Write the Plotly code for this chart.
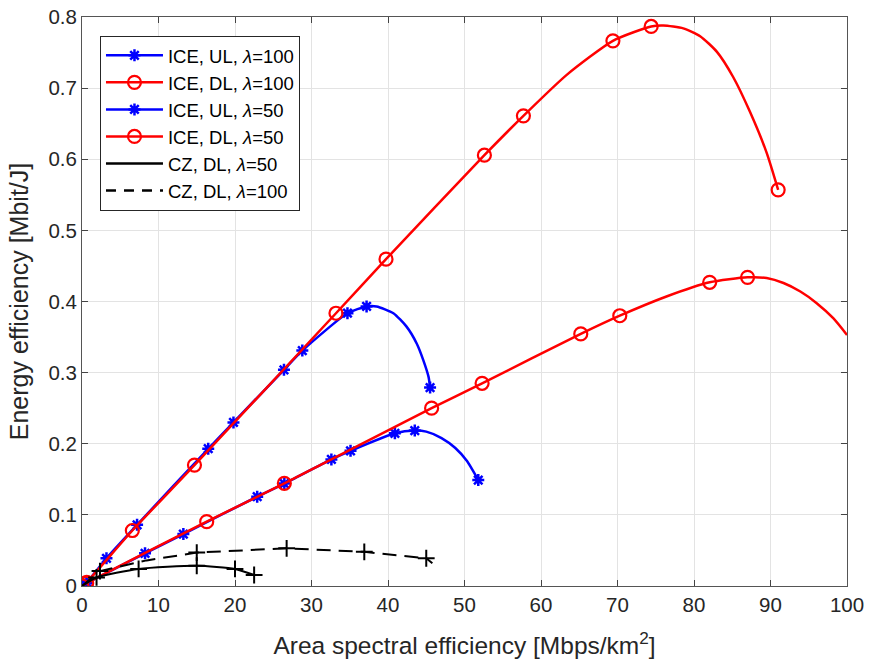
import plotly.graph_objects as go

# ---- data ----
# ICE, UL, lambda=100 (blue)
ul100_x = [0, 0.6, 3.2, 7.2, 16.5, 19.8, 26.4, 28.8, 34.7, 37.2, 38.5, 40.7, 42.4, 43.75, 44.6, 45.3, 45.5]
ul100_y = [0, 0.005, 0.039, 0.086, 0.193, 0.230, 0.304, 0.331, 0.3835, 0.393, 0.393, 0.3835, 0.365, 0.341, 0.318, 0.294, 0.279]
ul100_mx = [0, 0.6, 3.2, 7.2, 16.5, 19.8, 26.4, 28.8, 34.7, 37.2, 45.5]
ul100_my = [0, 0.005, 0.039, 0.086, 0.193, 0.230, 0.304, 0.331, 0.3835, 0.393, 0.279]

# ICE, DL, lambda=100 (red)
dl100_x = [0, 0.6, 6.58, 14.7, 33.2, 39.74, 52.6, 57.7, 63.4, 69.4, 74.4, 76.0, 78.6, 80.8, 83.0, 85.1, 87.3, 89.5, 91.0]
dl100_y = [0, 0.005, 0.078, 0.170, 0.3835, 0.4595, 0.6057, 0.661, 0.719, 0.7665, 0.7867, 0.788, 0.784, 0.773, 0.751, 0.716, 0.667, 0.609, 0.557]
dl100_mx = [0, 0.6, 6.58, 14.7, 33.2, 39.74, 52.6, 57.7, 69.4, 74.4, 91.0]
dl100_my = [0, 0.005, 0.078, 0.170, 0.3835, 0.4595, 0.6057, 0.661, 0.7665, 0.7867, 0.557]

# ICE, UL, lambda=50 (blue)
ul50_x = [0, 0.6, 8.24, 13.25, 22.9, 26.45, 32.6, 35.1, 40.9, 43.5, 45.0, 47.0, 48.8, 50.3, 51.8]
ul50_y = [0, 0.004, 0.046, 0.0731, 0.1256, 0.144, 0.178, 0.190, 0.2147, 0.2185, 0.217, 0.208, 0.194, 0.176, 0.149]
ul50_mx = [0, 0.6, 8.24, 13.25, 22.9, 26.45, 32.6, 35.1, 40.9, 43.5, 51.8]
ul50_my = [0, 0.004, 0.046, 0.0731, 0.1256, 0.144, 0.178, 0.190, 0.2147, 0.2185, 0.149]

# ICE, DL, lambda=50 (red)
dl50_x = [0, 0.6, 16.3, 26.45, 45.7, 52.3, 65.2, 70.3, 76.4, 82.05, 87.0, 89.5, 91.7, 93.9, 96.0, 98.2, 100.0]
dl50_y = [0, 0.004, 0.0905, 0.1444, 0.250, 0.285, 0.3544, 0.380, 0.407, 0.427, 0.434, 0.433, 0.426, 0.414, 0.398, 0.3765, 0.353]
dl50_mx = [0, 0.6, 16.3, 26.45, 45.7, 52.3, 65.2, 70.3, 82.05, 87.0]
dl50_my = [0, 0.004, 0.0905, 0.1444, 0.250, 0.285, 0.3544, 0.380, 0.427, 0.434]

# CZ, DL, lambda=50 (black solid)
cz50_x = [0, 1.9, 7.4, 15.0, 20.0, 22.5]
cz50_y = [0, 0.012, 0.024, 0.0285, 0.024, 0.0155]

# CZ, DL, lambda=100 (black dashed)
cz100_x = [0, 2.35, 8.45, 15.0, 26.75, 36.9, 45.0, 45.8]
cz100_y = [0, 0.021, 0.036, 0.047, 0.053, 0.048, 0.039, 0.032]
cz100_mx = [2.35, 15.0, 26.75, 36.9, 45.0]
cz100_my = [0.021, 0.047, 0.053, 0.048, 0.039]

x_ticks = [0, 10, 20, 30, 40, 50, 60, 70, 80, 90, 100]
y_ticks = [0, 0.1, 0.2, 0.3, 0.4, 0.5, 0.6, 0.7, 0.8]
y_tick_text = ["0", "0.1", "0.2", "0.3", "0.4", "0.5", "0.6", "0.7", "0.8"]

names = ["ICE, UL, <i>λ</i>=100", "ICE, DL, <i>λ</i>=100", "ICE, UL, <i>λ</i>=50",
         "ICE, DL, <i>λ</i>=50", "CZ, DL, <i>λ</i>=50", "CZ, DL, <i>λ</i>=100"]

BLUE = "#0000ff"
RED = "#ff0000"
BLACK = "#000000"
FONT = "Liberation Sans, Arial, sans-serif"
DASH = "14px,8px"

blue_marker = dict(symbol="asterisk-open", size=10, color=BLUE, line=dict(color=BLUE, width=2.5))
red_marker = dict(symbol="circle-open", size=13, color=RED, line=dict(color=RED, width=2.2))
black_marker = dict(symbol="cross-thin-open", size=12, color=BLACK, line=dict(color=BLACK, width=2))

fig = go.Figure()

def add_series(lx, ly, mx, my, color, width, marker, dash="solid"):
    fig.add_trace(go.Scatter(x=lx, y=ly, mode="lines", line=dict(color=color, width=width, shape="spline", smoothing=0.6, dash=dash),
                             showlegend=False, hoverinfo="skip"))
    fig.add_trace(go.Scatter(x=mx, y=my, mode="markers", marker=marker, showlegend=False))

add_series(ul100_x, ul100_y, ul100_mx, ul100_my, BLUE, 2.5, blue_marker)
add_series(dl100_x, dl100_y, dl100_mx, dl100_my, RED, 2.5, red_marker)
add_series(ul50_x, ul50_y, ul50_mx, ul50_my, BLUE, 2.5, blue_marker)
add_series(dl50_x, dl50_y, dl50_mx, dl50_my, RED, 2.5, red_marker)
add_series(cz50_x, cz50_y, cz50_x[1:], cz50_y[1:], BLACK, 2, black_marker)
fig.add_trace(go.Scatter(x=cz100_x, y=cz100_y, mode="lines", line=dict(color=BLACK, width=2, dash=DASH),
                         showlegend=False, hoverinfo="skip"))
fig.add_trace(go.Scatter(x=cz100_mx, y=cz100_my, mode="markers", marker=black_marker, showlegend=False))

# legend entries
legend_styles = [
    dict(mode="lines+markers", line=dict(color=BLUE, width=2.5), marker=blue_marker),
    dict(mode="lines+markers", line=dict(color=RED, width=2.5), marker=red_marker),
    dict(mode="lines+markers", line=dict(color=BLUE, width=2.5), marker=blue_marker),
    dict(mode="lines+markers", line=dict(color=RED, width=2.5), marker=red_marker),
    dict(mode="lines", line=dict(color=BLACK, width=2.5)),
    dict(mode="lines", line=dict(color=BLACK, width=2.5, dash="10px,8px")),
]
for nm, st in zip(names, legend_styles):
    fig.add_trace(go.Scatter(x=[None], y=[None], name=nm, showlegend=True, **st))

axis_common = dict(
    showgrid=True, gridcolor="#e3e3e3", gridwidth=1,
    showline=True, linecolor="#555555", linewidth=1, mirror="ticks",
    ticks="inside", ticklen=6, tickcolor="#444444",
    zeroline=False, automargin=False,
    tickfont=dict(family=FONT, size=20.5, color="#262626"),
)

fig.update_layout(
    width=869, height=666,
    margin=dict(l=82, r=22, t=17, b=80),
    paper_bgcolor="white", plot_bgcolor="white",
    font=dict(family=FONT, color="#262626"),
    xaxis=dict(range=[0, 100], tickvals=x_ticks, ticktext=[str(v) for v in x_ticks],
               title=dict(text="Area spectral efficiency [Mbps/km<sup>2</sup>]", font=dict(size=24.5), standoff=22),
               **axis_common),
    yaxis=dict(range=[0, 0.8], tickvals=y_ticks, ticktext=y_tick_text,
               title=dict(text="Energy efficiency [Mbit/J]", font=dict(size=25), standoff=12),
               **axis_common),
    legend=dict(x=0.0235, y=0.967, xanchor="left", yanchor="top",
                bgcolor="white", bordercolor="#262626", borderwidth=1,
                font=dict(family=FONT, size=18.5, color="#000000"),
                itemwidth=57, tracegroupgap=0),
    showlegend=True,
)

fig.write_html("out.html")
